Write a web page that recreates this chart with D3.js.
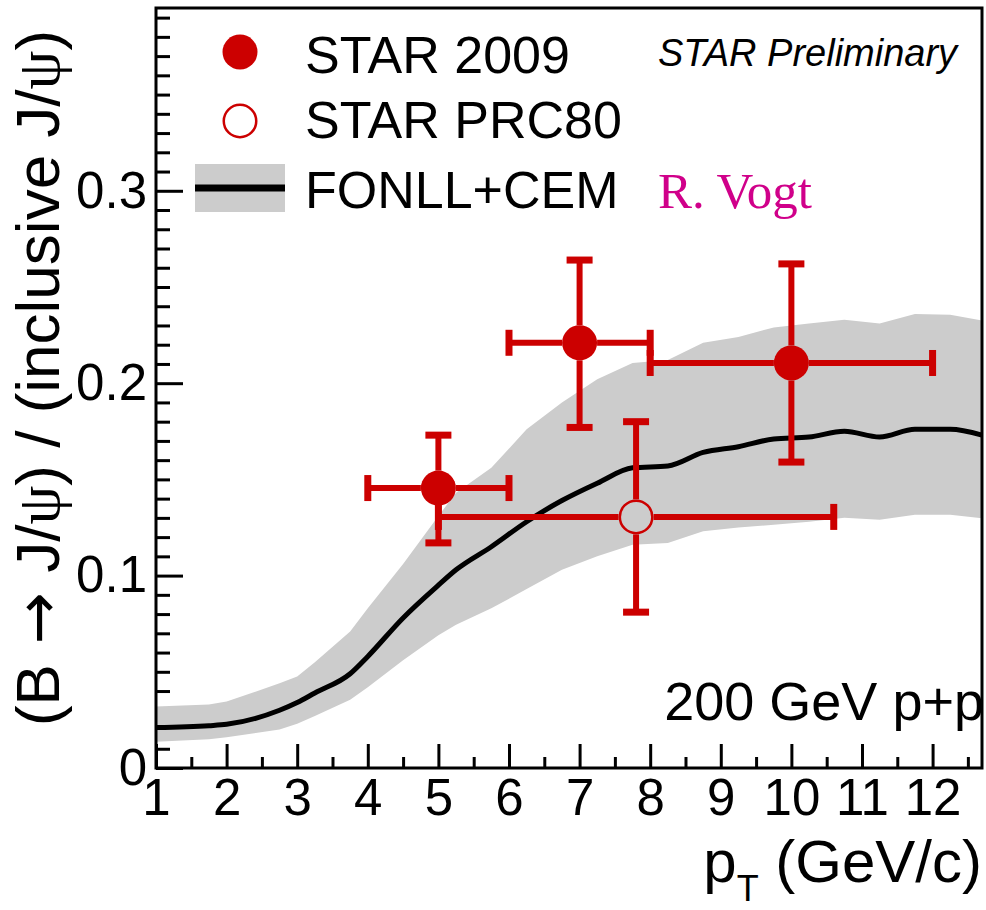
<!DOCTYPE html>
<html>
<head>
<meta charset="utf-8">
<script src="https://cdn.jsdelivr.net/npm/d3@7"></script>
<style>
  body { margin: 0; background: #fff; }
  svg text { font-family: "Liberation Sans", Arial, sans-serif; }
</style>
</head>
<body>
<svg width="986" height="910"></svg>
<script>
// FONLL+CEM band (R. Vogt)
const pTGrid = [1, 1.75, 2, 2.75, 3, 3.25, 3.75, 4, 4.5, 5, 5.25, 5.75, 6.25, 6.75, 7.25, 7.75, 8.25, 8.75, 9.25, 9.75, 10.25, 10.75, 11.25, 11.75, 12.25, 12.7]
const fonllCentral = [0.021, 0.022, 0.0227, 0.030, 0.034, 0.039, 0.049, 0.058, 0.078, 0.095, 0.103, 0.115, 0.128, 0.139, 0.148, 0.156, 0.157, 0.164, 0.167, 0.171, 0.172, 0.175, 0.172, 0.176, 0.176, 0.173]
const fonllHigh = [0.032, 0.033, 0.0345, 0.044, 0.0475, 0.055, 0.071, 0.083, 0.106, 0.131, 0.143, 0.156, 0.176, 0.190, 0.202, 0.2105, 0.212, 0.221, 0.224, 0.229, 0.231, 0.233, 0.231, 0.236, 0.2356, 0.2326]
const fonllLow = [0.0137, 0.0149, 0.016, 0.020, 0.023, 0.027, 0.0355, 0.042, 0.056, 0.069, 0.0745, 0.083, 0.093, 0.103, 0.110, 0.116, 0.117, 0.123, 0.125, 0.1264, 0.128, 0.130, 0.129, 0.1316, 0.1316, 0.1298]

// STAR 2009 (filled)
const star09Pt = [5, 7, 10]
const star09Val = [0.1455, 0.221, 0.2105]
const star09PtLo = [4, 6, 8]
const star09PtHi = [6, 8, 12]
const star09ValLo = [0.117, 0.177, 0.159]
const star09ValHi = [0.173, 0.264, 0.262]

// STAR PRC80 (open)
const prc80Pt = [7.8]
const prc80Val = [0.1305]
const prc80PtLo = [5]
const prc80PtHi = [10.6]
const prc80ValLo = [0.081]
const prc80ValHi = [0.18]

const xMajor = [1, 2, 3, 4, 5, 6, 7, 8, 9, 10, 11, 12]
const yMajor = [0, 0.1, 0.2, 0.3]
const legendLabels = ['STAR 2009', 'STAR PRC80', 'FONLL+CEM']

const svg = d3.select('svg')
const mLeft = 156, mRight = 982, mTop = 8, mBottom = 768
const red = '#cc0000'

const x = d3.scaleLinear().domain([1, 12.7]).range([mLeft, mRight])
const y = d3.scaleLinear().domain([0, 0.395]).range([mBottom, mTop])

// ticks (drawn first, the band covers some of them)
const xMinor = d3.range(1.5, 12.7, 1)
const yMinor = d3.range(0, 0.395, 0.01).filter(v => Math.abs(v * 10 - Math.round(v * 10)) > 1e-6)

function styleAxis(g) {
    g.select('.domain').remove()
    g.selectAll('.tick line').attr('stroke', '#000').attr('stroke-width', 3)
    g.selectAll('.tick text')
        .style('font-family', '"Liberation Sans", Arial, sans-serif')
        .style('font-size', '51px')
        .attr('fill', '#000')
}

svg.append('g').attr('transform', `translate(${mLeft},0)`)
    .call(d3.axisLeft(y).tickValues(yMinor).tickSize(-14).tickFormat(''))
    .call(styleAxis)
svg.append('g').attr('transform', `translate(${mLeft},0)`)
    .call(d3.axisLeft(y).tickValues(yMajor).tickSize(-27).tickPadding(9).tickFormat(d => d === 0 ? '0' : d3.format('.1f')(d)))
    .call(styleAxis)
svg.append('g').attr('transform', `translate(0,${mBottom})`)
    .call(d3.axisBottom(x).tickValues(xMinor).tickSize(-11).tickFormat(''))
    .call(styleAxis)
svg.append('g').attr('transform', `translate(0,${mBottom})`)
    .call(d3.axisBottom(x).tickValues(xMajor).tickSize(-24).tickPadding(11).tickFormat(d3.format('d')))
    .call(styleAxis)

// band + central curve
const bandData = pTGrid.map((p, i) => ({ p: p, lo: fonllLow[i], hi: fonllHigh[i], c: fonllCentral[i] }))
svg.append('path')
    .datum(bandData)
    .attr('fill', '#cccccc')
    .attr('d', d3.area().x(d => x(d.p)).y0(d => y(d.lo)).y1(d => y(d.hi)))
svg.append('path')
    .datum(bandData)
    .attr('fill', 'none')
    .attr('stroke', '#000')
    .attr('stroke-width', 5)
    .attr('d', d3.line().x(d => x(d.p)).y(d => y(d.c)).curve(d3.curveMonotoneX))

// error bars with markers
const r = 17.5
function drawPoints(pt, val, ptLo, ptHi, valLo, valHi, open) {
    const g = svg.append('g')
    pt.forEach(function (p, i) {
        const cx = x(p), cy = y(val[i])
        const segs = [
            [cx, y(valHi[i]), cx, cy - r],
            [cx, cy + r, cx, y(valLo[i])],
            [x(ptLo[i]), cy, cx - r, cy],
            [cx + r, cy, x(ptHi[i]), cy]
        ]
        segs.forEach(s => {
            g.append('line')
                .attr('x1', s[0]).attr('y1', s[1]).attr('x2', s[2]).attr('y2', s[3])
                .attr('stroke', red).attr('stroke-width', 6)
        })
        // caps
        ;[valHi[i], valLo[i]].forEach(v => {
            g.append('rect').attr('x', cx - 13).attr('y', y(v) - 3.5)
                .attr('width', 26).attr('height', 7).attr('fill', red)
        })
        ;[ptLo[i], ptHi[i]].forEach(v => {
            g.append('rect').attr('x', x(v) - 3.5).attr('y', cy - 13)
                .attr('width', 7).attr('height', 26).attr('fill', red)
        })
        g.append('circle')
            .attr('cx', cx).attr('cy', cy)
            .attr('r', open ? r - 1.25 : r)
            .attr('fill', open ? 'none' : red)
            .attr('stroke', open ? red : 'none')
            .attr('stroke-width', 2.5)
    })
}
drawPoints(star09Pt, star09Val, star09PtLo, star09PtHi, star09ValLo, star09ValHi, false)
drawPoints(prc80Pt, prc80Val, prc80PtLo, prc80PtHi, prc80ValLo, prc80ValHi, true)

// frame
svg.append('rect')
    .attr('x', mLeft).attr('y', mTop)
    .attr('width', mRight - mLeft).attr('height', mBottom - mTop)
    .attr('fill', 'none').attr('stroke', '#000').attr('stroke-width', 3)

// legend
const lg = svg.append('g')
lg.append('circle').attr('cx', 240).attr('cy', 52).attr('r', r).attr('fill', red)
lg.append('circle').attr('cx', 240).attr('cy', 121).attr('r', r - 1.25)
    .attr('fill', 'none').attr('stroke', red).attr('stroke-width', 2.5)
lg.append('rect').attr('x', 195).attr('y', 164).attr('width', 90).attr('height', 48).attr('fill', '#cccccc')
lg.append('line').attr('x1', 195).attr('x2', 285).attr('y1', 188).attr('y2', 188)
    .attr('stroke', '#000').attr('stroke-width', 7)
lg.selectAll('text.leg')
    .data(legendLabels)
    .enter().append('text')
    .attr('class', 'leg')
    .attr('x', 305)
    .attr('y', (d, i) => [73, 138, 208][i])
    .style('font-size', '52px')
    .text(d => d)

svg.append('text')
    .attr('x', 658).attr('y', 66)
    .style('font-size', '38px').style('font-style', 'italic')
    .text('STAR Preliminary')

svg.append('text')
    .attr('x', 658).attr('y', 208)
    .style('font-family', '"Liberation Serif", "Times New Roman", serif')
    .style('font-size', '51px')
    .attr('fill', '#d0008a')
    .text('R. Vogt')

svg.append('text')
    .attr('x', 984).attr('y', 720)
    .attr('text-anchor', 'end')
    .style('font-size', '54px')
    .text('200 GeV p+p')

// axis titles
const xt = svg.append('text')
    .attr('x', 982).attr('y', 882)
    .attr('text-anchor', 'end')
    .style('font-size', '60px')
xt.append('tspan').text('p')
xt.append('tspan').attr('dy', 19).style('font-size', '36px').text('T')
xt.append('tspan').attr('dy', -19).text(' (GeV/c)')

const yt = svg.append('text')
    .attr('transform', 'translate(59,378) rotate(-90)')
    .attr('text-anchor', 'middle')
    .style('font-size', '62px')
yt.append('tspan').text('(B')
yt.append('tspan').style('font-family', '"DejaVu Sans", sans-serif').text(' → ')
yt.append('tspan').text('J/')
yt.append('tspan').style('font-family', '"Liberation Serif", serif').text('ψ')
yt.append('tspan').text(') / (inclusive J/')
yt.append('tspan').style('font-family', '"Liberation Serif", serif').text('ψ')
yt.append('tspan').text(')')
</script>
</body>
</html>
